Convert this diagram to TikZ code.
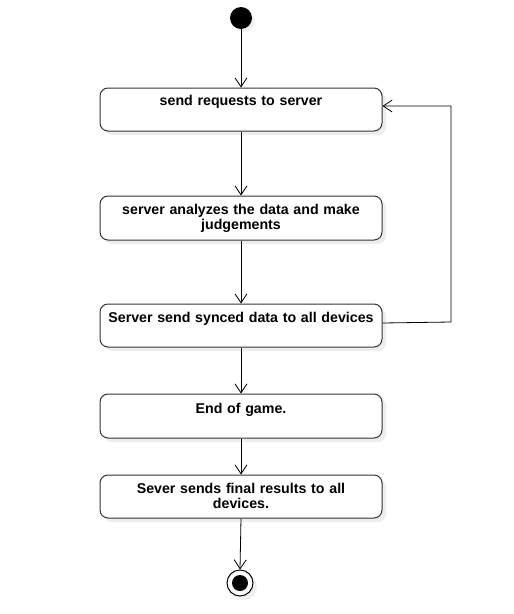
\documentclass[tikz,border=0pt]{standalone}
\usepackage{fontspec}
\setmainfont{Liberation Sans}
\usetikzlibrary{arrows.meta,shadows}
\begin{document}
\begin{tikzpicture}[x=1pt,y=-1pt,
  act/.style={draw=black!80, line width=1pt, rounded corners=8pt, fill=white,
    minimum width=282pt, inner sep=0pt,
    drop shadow={shadow xshift=4pt, shadow yshift=-4pt, fill=black!7, opacity=1}},
  lbl/.style={anchor=north, align=center, text width=280pt, inner sep=0pt,
    font=\fontsize{14.2}{15}\selectfont\bfseries},
  flow/.style={draw=black, line width=0.8pt, -{Straight Barb[length=9pt,width=12pt,line width=0.8pt]}}]
\useasboundingbox (0,0) rectangle (514,614);
% start
\fill[black!6] (244,21) circle (11);
\node[circle, fill=black, minimum size=22pt, inner sep=0pt] (start) at (241,18) {};
% boxes
\node[act, minimum height=43pt] (b1) at (241,109.5) {};
\node[lbl] (t1) at (241,95) {send requests to server};
\node[act, minimum height=44pt] (b2) at (241,218) {};
\node[lbl] (t2) at (241,204) {server analyzes the data and make\\judgements};
\node[act, minimum height=43pt] (b3) at (241,325.5) {};
\node[lbl] (t3) at (241,312) {Server send synced data to all devices};
\node[act, minimum height=44pt] (b4) at (241,416) {};
\node[lbl] (t4) at (241,403) {End of game.};
\node[act, minimum height=43pt] (b5) at (241,496.5) {};
\node[lbl] (t5) at (241,483) {Sever sends final results to all\\devices.};
% end
\fill[black!6] (244,587) circle (13);
\node[circle, draw=black, line width=1pt, fill=white, minimum size=26pt, inner sep=0pt] (end) at (240,583) {};
\node[circle, fill=black, minimum size=16pt, inner sep=0pt] (endin) at (240,583) {};
% connectors
\draw[flow] (start) -- (b1);
\draw[flow] (b1) -- (b2);
\draw[flow] (b2) -- (b3);
\draw[flow] (b3) -- (b4);
\draw[flow] (b4) -- (b5);
\draw[flow] (b5.south) -- (end.north);
\coordinate (c1) at (451,322);
\coordinate (c2) at (451,106);
\draw[flow] (b3.east |- 0,323) -- (c1) -- (c2) -- (b1.east |- c2);
\end{tikzpicture}
\end{document}
